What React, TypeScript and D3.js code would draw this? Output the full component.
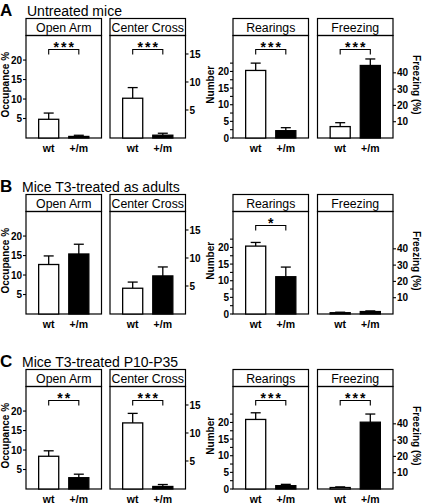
import React from 'react';
import * as d3 from 'd3';

// ---------- data ----------
const rowLetters = ['A', 'B', 'C'];
const rowTitles = ['Untreated mice', 'Mice T3-treated as adults', 'Mice T3-treated P10-P35'];
const groups = ['wt', '+/m'];
const panelNames = ['Open Arm', 'Center Cross', 'Rearings', 'Freezing'];

// [row][group]
const openArmMean = [[4.8, 0.4], [12.7, 15.4], [8.4, 2.9]];
const openArmErr = [[1.6, 0.3], [2.2, 2.5], [1.4, 0.9]];
const centerCrossMean = [[7.1, 0.5], [4.6, 6.8], [11.8, 0.45]];
const centerCrossErr = [[1.9, 0.35], [1.1, 1.6], [1.7, 0.35]];
const rearingsMean = [[20.3, 2.2], [20.4, 11.2], [20.9, 1.0]];
const rearingsErr = [[2.2, 0.9], [1.1, 2.9], [2.0, 0.4]];
const freezingMean = [[7.0, 44.5], [0.8, 1.5], [0.9, 41.0]];
const freezingErr = [[2.4, 4.0], [0.3, 0.4], [0.4, 5.0]];

// [row][panel]
const significance = [
  ['***', '***', '***', '***'],
  ['', '', '*', ''],
  ['**', '***', '***', '***'],
];

const openArmTicks = [5, 10, 15, 20];
const centerCrossTicks = [5, 10, 15];
const rearingsTicks = [0, 2.5, 5, 7.5, 10, 12.5, 15, 17.5, 20, 22.5];
const rearingsLabels = [0, 5, 10, 15, 20];
const freezingTicks = [10, 20, 30, 40];

const domainMax = [26.3, 18.3, 30.8, 62.9];
const axisSide = ['left', 'right', 'left', 'right'];

const yLabels = ['Occupance %', 'Number', 'Freezing (%)'];

// ---------- layout ----------
const W = 422;
const H = 504;
const FONT = '"Liberation Sans", Arial, Helvetica, sans-serif';
const panelX = [26, 110, 233, 317.5];
const panelW = 75.5;
const headerTops = [18.5, 194.5, 369.5];
const headerH = 17;
const bodyH = 102.5;

const meansByPanel = [openArmMean, centerCrossMean, rearingsMean, freezingMean];
const errsByPanel = [openArmErr, centerCrossErr, rearingsErr, freezingErr];
const ticksByPanel = [openArmTicks, centerCrossTicks, rearingsTicks, freezingTicks];
const labelsByPanel = [openArmTicks, centerCrossTicks, rearingsLabels, freezingTicks];

function Panel({ row, p }: { row: number; p: number }) {
  const x0 = panelX[p];
  const top = headerTops[row];
  const bodyTop = top + headerH;
  const base = bodyTop + bodyH;
  const y = d3.scaleLinear().domain([0, domainMax[p]]).range([base, bodyTop]);
  const x = d3
    .scaleBand<string>()
    .domain(groups)
    .range([x0, x0 + panelW])
    .paddingInner(1 / 3)
    .paddingOuter(0.42);
  const bw = x.bandwidth();
  const side = axisSide[p];
  const axX = side === 'left' ? x0 : x0 + panelW;
  const dir = side === 'left' ? -1 : 1;
  const means = meansByPanel[p][row];
  const errs = errsByPanel[p][row];
  const sig = significance[row][p];
  const c0 = (x(groups[0]) as number) + bw / 2;
  const c1 = (x(groups[1]) as number) + bw / 2;
  const brY = bodyTop + 14;
  return (
    <g>
      {/* header */}
      <rect x={x0} y={top} width={panelW} height={headerH} fill="#fff" stroke="#000" strokeWidth={1.2} />
      <text x={x0 + panelW / 2} y={top + 13} textAnchor="middle" fontSize={12.3} fontFamily={FONT}>
        {panelNames[p]}
      </text>
      {/* body frame */}
      <rect x={x0} y={bodyTop} width={panelW} height={bodyH} fill="none" stroke="#000" strokeWidth={1.2} />
      {/* bars */}
      {groups.map((g, i) => {
        const bx = x(g) as number;
        const v = means[i];
        const e = errs[i];
        const cx = bx + bw / 2;
        return (
          <g key={g}>
            <line x1={cx} x2={cx} y1={y(v)} y2={y(v + e)} stroke="#000" strokeWidth={1.3} />
            <line x1={cx - 5} x2={cx + 5} y1={y(v + e)} y2={y(v + e)} stroke="#000" strokeWidth={1.3} />
            <rect
              x={bx}
              y={y(v)}
              width={bw}
              height={base - y(v)}
              fill={i === 0 ? '#fff' : '#000'}
              stroke="#000"
              strokeWidth={1.3}
            />
            <text
              x={cx}
              y={base + 14}
              textAnchor="middle"
              fontSize={10.5}
              fontWeight="bold"
              fontFamily={FONT}
            >
              {g}
            </text>
          </g>
        );
      })}
      {/* axis */}
      {ticksByPanel[p].map((t) => (
        <line key={'t' + t} x1={axX} x2={axX + dir * 3} y1={y(t)} y2={y(t)} stroke="#000" strokeWidth={1.1} />
      ))}
      {labelsByPanel[p].map((t) => (
        <text
          key={'l' + t}
          x={axX + dir * 4}
          y={y(t) + 3.6}
          textAnchor={side === 'left' ? 'end' : 'start'}
          fontSize={10}
          fontWeight="bold"
          fontFamily={FONT}
        >
          {t}
        </text>
      ))}
      {/* significance */}
      {sig && (
        <g>
          <path
            d={`M${c0},${brY + 5}V${brY}H${c1}V${brY + 5}`}
            fill="none"
            stroke="#000"
            strokeWidth={1.1}
          />
          <text
            x={(c0 + c1) / 2 + 1}
            y={brY + 2}
            textAnchor="middle"
            fontSize={14}
            fontWeight="bold"
            letterSpacing={2}
            fontFamily={FONT}
          >
            {sig}
          </text>
        </g>
      )}
    </g>
  );
}

export default function App() {
  return (
    <svg
      width={W}
      height={H}
      viewBox={`0 0 ${W} ${H}`}
      style={{ position: 'absolute', left: 0, top: 0, background: '#fff' }}
    >
      <rect x={0} y={0} width={W} height={H} fill="#fff" />
      {rowLetters.map((L, r) => {
        const top = headerTops[r];
        const mid = top + headerH + bodyH / 2;
        return (
          <g key={L}>
            <text x={0} y={top - 3} fontSize={17} fontWeight="bold" fontFamily={FONT}>
              {L}
            </text>
            <text x={r === 0 ? 27 : 22} y={top - 3} fontSize={14} fontFamily={FONT}>
              {rowTitles[r]}
            </text>
            {panelNames.map((_, p) => (
              <Panel key={p} row={r} p={p} />
            ))}
            <text
              transform={`translate(8.5,${mid - 2}) rotate(-90)`}
              textAnchor="middle"
              fontSize={10}
              fontWeight="bold"
              fontFamily={FONT}
            >
              {yLabels[0]}
            </text>
            <text
              transform={`translate(214,${mid - 2}) rotate(-90)`}
              textAnchor="middle"
              fontSize={10}
              fontWeight="bold"
              fontFamily={FONT}
            >
              {yLabels[1]}
            </text>
            <text
              transform={`translate(413,${mid - 2}) rotate(90)`}
              textAnchor="middle"
              fontSize={10}
              fontWeight="bold"
              fontFamily={FONT}
            >
              {yLabels[2]}
            </text>
          </g>
        );
      })}
    </svg>
  );
}
